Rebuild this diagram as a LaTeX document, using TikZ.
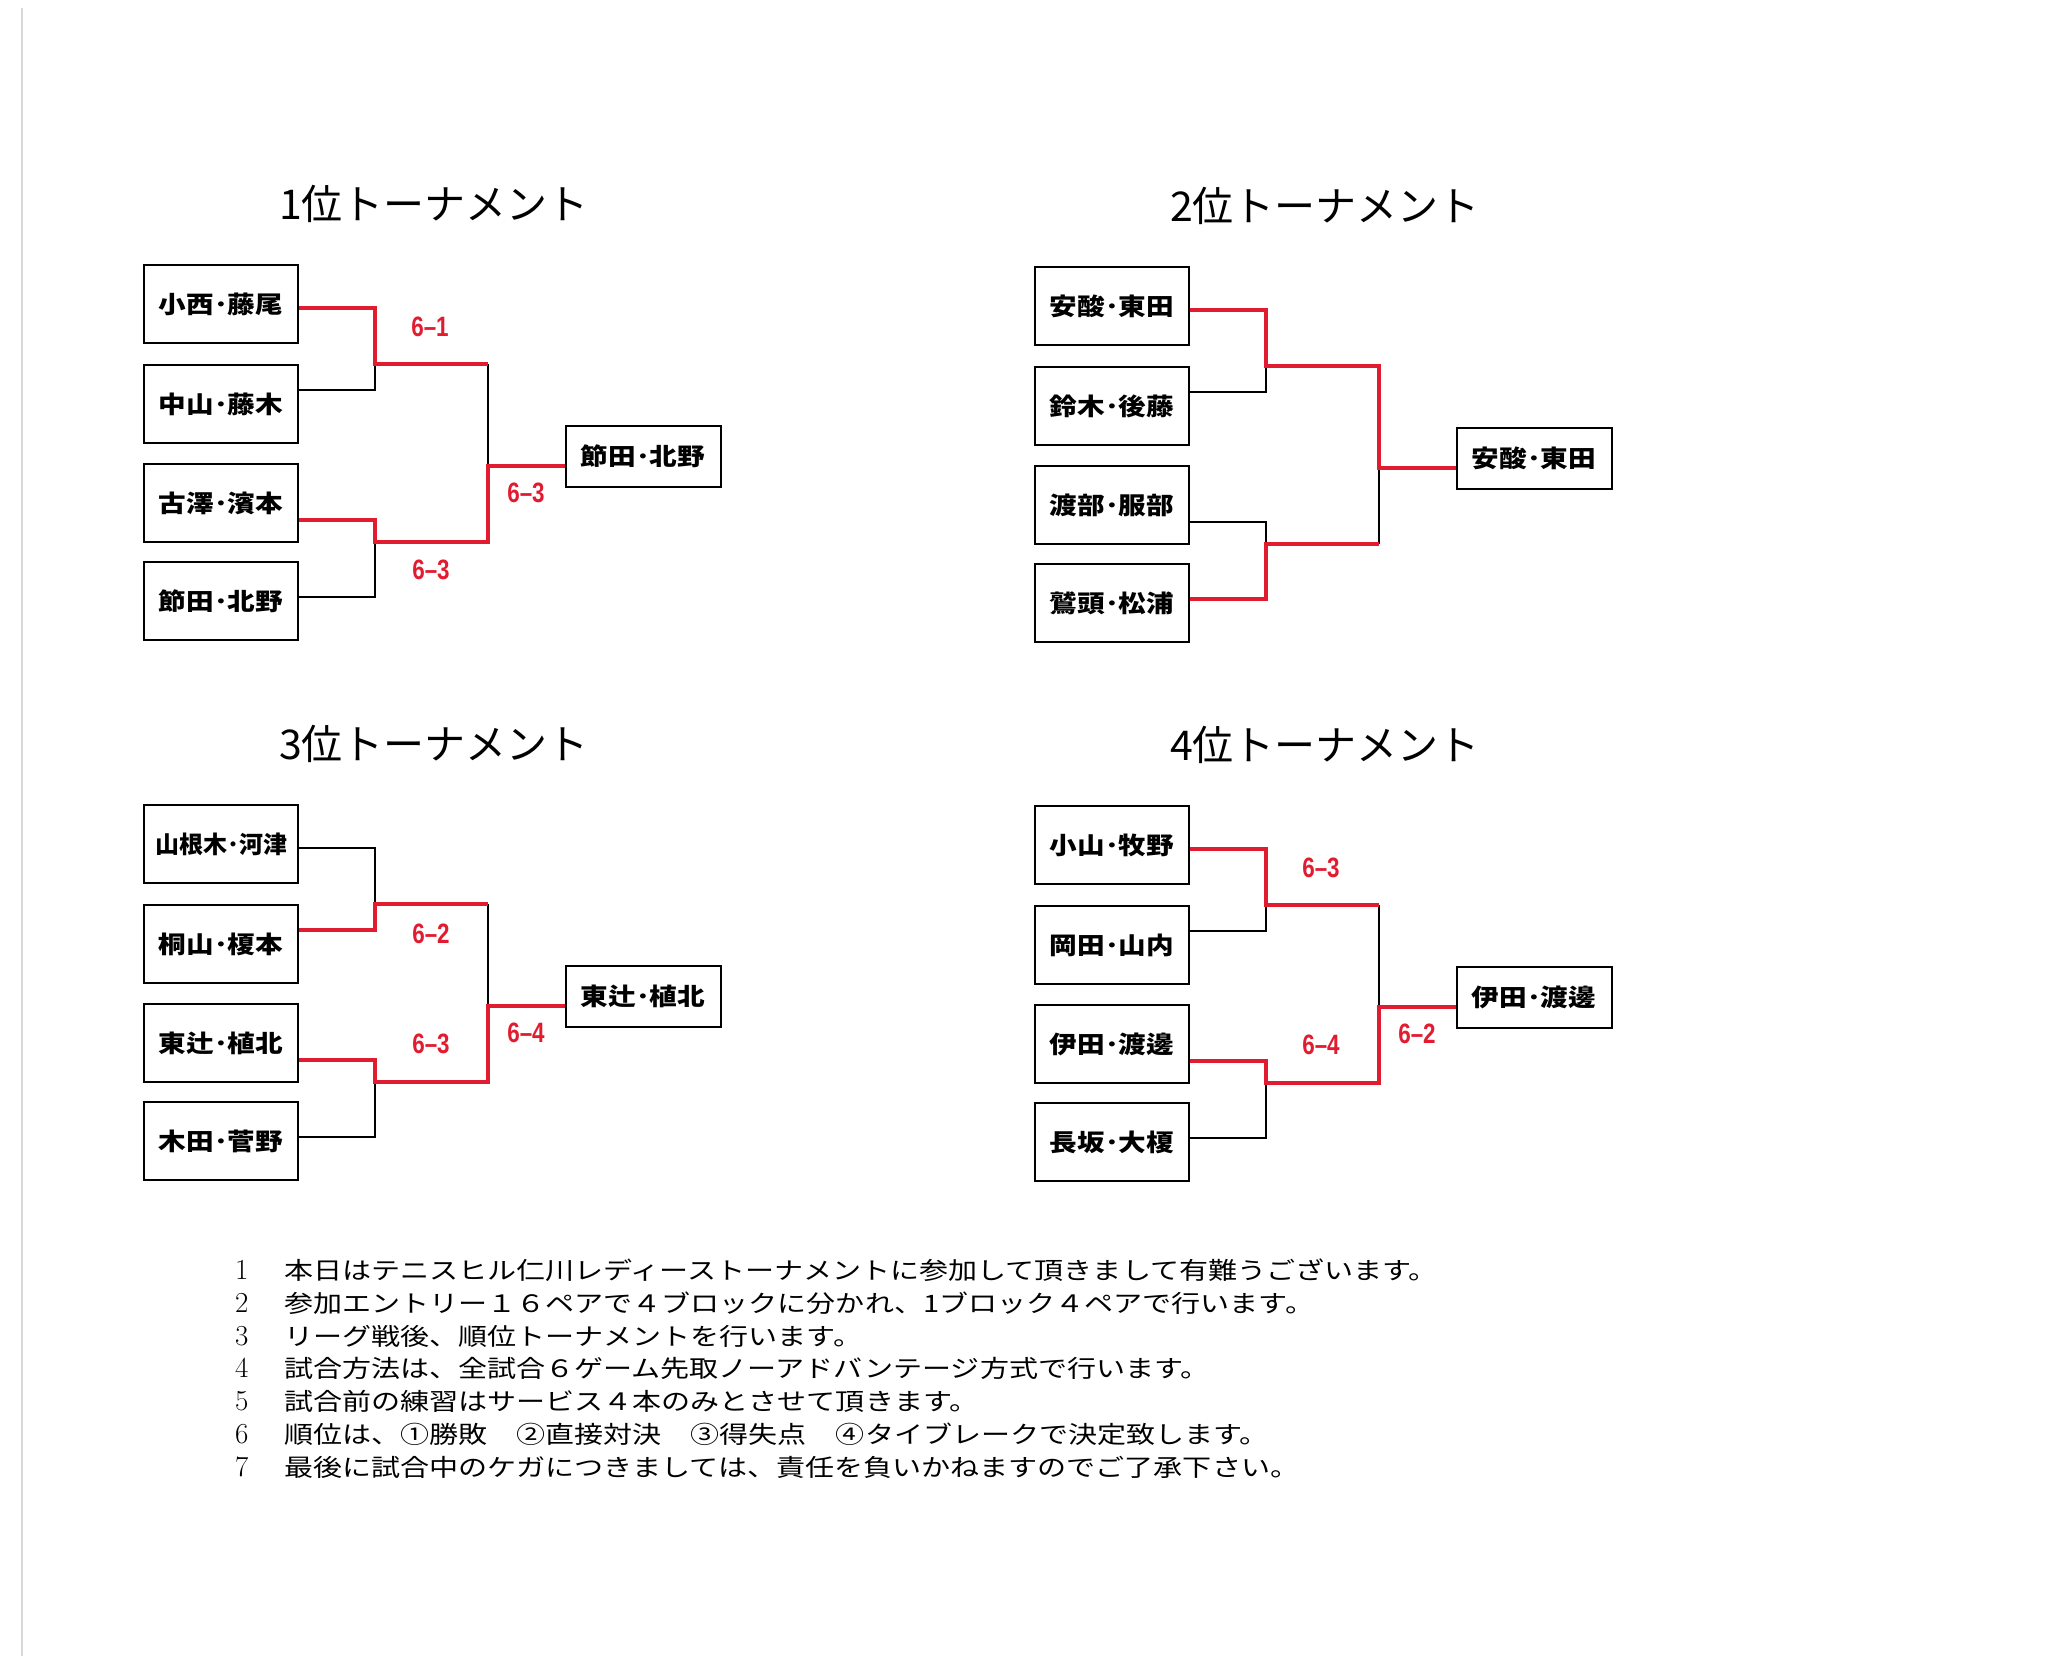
\documentclass[tikz,border=0pt]{standalone}
\usepackage{fontspec}
\usetikzlibrary{positioning}
\newfontfamily\jpgothic{Noto Sans CJK JP}
\newfontfamily\jpname[FakeStretch=1.15]{Noto Sans CJK JP}
\newfontfamily\jpnote[FakeStretch=1.21]{Noto Sans CJK JP}
\newfontfamily\scorefont[FakeStretch=0.8]{Liberation Sans}
\definecolor{scorered}{RGB}{226,28,48}

\begin{document}
\begin{tikzpicture}[x=1pt,y=-1pt,
  team/.style={draw,line width=2pt,minimum width=154pt,minimum height=78pt,inner sep=0pt,
    font=\jpname\bfseries\fontsize{24}{24}\selectfont},
  champ/.style={team,minimum width=155pt,minimum height=61pt},
  lose/.style={line width=1.8pt},
  win/.style={line width=3.6pt,draw=scorered},
  score/.style={text=scorered,inner sep=0pt,font=\scorefont\bfseries\fontsize{28}{28}\selectfont},
  heading/.style={font=\jpgothic\fontsize{41}{41}\selectfont},
  note/.style={anchor=base west,inner sep=0pt,font=\jpnote\fontsize{24}{24}\selectfont},
  num/.style={anchor=base west,inner sep=0pt,font=\fontsize{29}{29}\selectfont}]

\path[fill=white] (0,0) rectangle (2063,1656);
\useasboundingbox (0,0) rectangle (2063,1656);
\draw[black!15,line width=1.5pt] (22,8) -- (22,1656);

\begin{scope}[shift={(144,264)}]
\node[heading] (t1) at (290,-60) {1位トーナメント};
\node[team] (a1) at (77,40) {小西･藤尾};
\node[team] (a2) at (77,140) {中山･藤木};
\node[team] (a3) at (77,239) {古澤･濱本};
\node[team] (a4) at (77,337) {節田･北野};
\node[champ] (aw) at (499,192) {節田･北野};
\coordinate (aA) at (231,100);
\coordinate (aB) at (231,278);
\coordinate (aF) at (344,202);
\draw[lose] ([yshift=14pt]a2.east) -| (aA);
\draw[lose] ([yshift=4pt]a4.east) -| (aB);
\draw[lose] (aA -| aF) -- (aF);
\draw[win] ([yshift=-4pt]a1.east) -| (aA) -- (aA -| aF);
\draw[win] ([yshift=-17pt]a3.east) -| (aB) -- (aB -| aF) -- (aF) -- (aF -| aw.west);
\node[score] (sa1) at (286,63) {6–1};
\node[score] (sa2) at (287,306) {6–3};
\node[score] (sa3) at (382,229) {6–3};
\end{scope}

\begin{scope}[shift={(1035,266)}]
\node[heading] (t2) at (290,-60) {2位トーナメント};
\node[team] (b1) at (77,40) {安酸･東田};
\node[team] (b2) at (77,140) {鈴木･後藤};
\node[team] (b3) at (77,239) {渡部･服部};
\node[team] (b4) at (77,337) {鷲頭･松浦};
\node[champ] (bw) at (499,192) {安酸･東田};
\coordinate (bA) at (231,100);
\coordinate (bB) at (231,278);
\coordinate (bF) at (344,202);
\draw[lose] ([yshift=14pt]b2.east) -| (bA);
\draw[lose] ([yshift=-17pt]b3.east) -| (bB);
\draw[lose] (bF) -- (bB -| bF);
\draw[win] ([yshift=-4pt]b1.east) -| (bA) -- (bA -| bF) -- (bF) -- (bF -| bw.west);
\draw[win] ([yshift=4pt]b4.east) -| (bB) -- (bB -| bF);
\end{scope}

\begin{scope}[shift={(144,804)}]
\node[heading] (t3) at (290,-60) {3位トーナメント};
\node[team,font=\jpgothic\bfseries\fontsize{24}{24}\selectfont] (c1) at (77,40) {山根木･河津};
\node[team] (c2) at (77,140) {桐山･榎本};
\node[team] (c3) at (77,239) {東辻･植北};
\node[team] (c4) at (77,337) {木田･菅野};
\node[champ] (cw) at (499,192) {東辻･植北};
\coordinate (cA) at (231,100);
\coordinate (cB) at (231,278);
\coordinate (cF) at (344,202);
\draw[lose] ([yshift=-4pt]c1.east) -| (cA);
\draw[lose] ([yshift=4pt]c4.east) -| (cB);
\draw[lose] (cA -| cF) -- (cF);
\draw[win] ([yshift=14pt]c2.east) -| (cA) -- (cA -| cF);
\draw[win] ([yshift=-17pt]c3.east) -| (cB) -- (cB -| cF) -- (cF) -- (cF -| cw.west);
\node[score] (sc1) at (287,130) {6–2};
\node[score] (sc2) at (287,240) {6–3};
\node[score] (sc3) at (382,229) {6–4};
\end{scope}

\begin{scope}[shift={(1035,805)}]
\node[heading] (t4) at (290,-60) {4位トーナメント};
\node[team] (d1) at (77,40) {小山･牧野};
\node[team] (d2) at (77,140) {岡田･山内};
\node[team] (d3) at (77,239) {伊田･渡邊};
\node[team] (d4) at (77,337) {長坂･大榎};
\node[champ] (dw) at (499,192) {伊田･渡邊};
\coordinate (dA) at (231,100);
\coordinate (dB) at (231,278);
\coordinate (dF) at (344,202);
\draw[lose] ([yshift=14pt]d2.east) -| (dA);
\draw[lose] ([yshift=4pt]d4.east) -| (dB);
\draw[lose] (dA -| dF) -- (dF);
\draw[win] ([yshift=-4pt]d1.east) -| (dA) -- (dA -| dF);
\draw[win] ([yshift=-17pt]d3.east) -| (dB) -- (dB -| dF) -- (dF) -- (dF -| dw.west);
\node[score] (sd1) at (286,63) {6–3};
\node[score] (sd2) at (286,240) {6–4};
\node[score] (sd3) at (382,229) {6–2};
\end{scope}

\node[num] (m1) at (235,1279) {1};
\node[num] (m2) at (235,1312) {2};
\node[num] (m3) at (235,1345) {3};
\node[num] (m4) at (235,1377) {4};
\node[num] (m5) at (235,1410) {5};
\node[num] (m6) at (235,1443) {6};
\node[num] (m7) at (235,1476) {7};
\node[note] (n1) at (284,1279) {本日はテニスヒル仁川レディーストーナメントに参加して頂きまして有難うございます。};
\node[note] (n2) at (284,1312) {参加エントリー１６ペアで４ブロックに分かれ、1ブロック４ペアで行います。};
\node[note] (n3) at (284,1345) {リーグ戦後、順位トーナメントを行います。};
\node[note] (n4) at (284,1377) {試合方法は、全試合６ゲーム先取ノーアドバンテージ方式で行います。};
\node[note] (n5) at (284,1410) {試合前の練習はサービス４本のみとさせて頂きます。};
\node[note] (n6) at (284,1443) {順位は、①勝敗　②直接対決　③得失点　④タイブレークで決定致します。};
\node[note] (n7) at (284,1476) {最後に試合中のケガにつきましては、責任を負いかねますのでご了承下さい。};

\end{tikzpicture}
\end{document}
